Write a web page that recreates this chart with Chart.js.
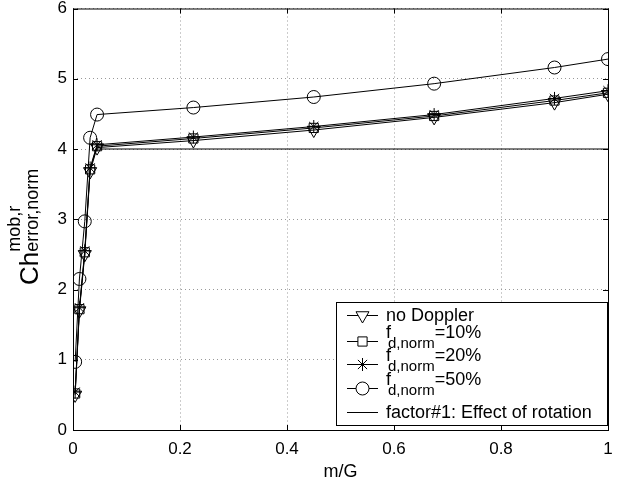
<!DOCTYPE html>
<html>
<head>
<meta charset="utf-8">
<script src="https://cdn.jsdelivr.net/npm/chart.js@4.4.1/dist/chart.umd.min.js"></script>
<style>
  html, body { margin: 0; padding: 0; background: #fff; }
  #wrap { position: absolute; left: 0; top: 0; width: 617px; height: 485px; }
</style>
</head>
<body>
<div id="wrap"><canvas id="c" width="617" height="485"></canvas></div>
<script>
// m/G sample points (x axis)
const mG = [0.004, 0.012, 0.022, 0.032, 0.045, 0.225, 0.45, 0.675, 0.9, 1.0];
const noDoppler = [0.50, 1.70, 2.50, 3.68, 4.02, 4.12, 4.27, 4.45, 4.66, 4.78];
const fd10 = [0.52, 1.72, 2.53, 3.71, 4.04, 4.15, 4.30, 4.47, 4.69, 4.80];
const fd20 = [0.54, 1.74, 2.55, 3.73, 4.06, 4.17, 4.32, 4.49, 4.72, 4.83];
const fd50 = [0.97, 2.15, 2.97, 4.16, 4.49, 4.59, 4.74, 4.93, 5.16, 5.28];
const factorX = [0.045, 1.0];
const factorY = [4, 4];
const xTicks = [0, 0.2, 0.4, 0.6, 0.8, 1];
const yTicks = [0, 1, 2, 3, 4, 5, 6];

const FONT = "'Liberation Sans', Arial, Helvetica, sans-serif";
const pts = (xs, ys) => xs.map((x, i) => ({ x, y: ys[i] }));

const series = [
  { label: "no Doppler", data: pts(mG, noDoppler), style: "triangle", radius: 7.5, rotation: 180 },
  { label: "=10%", data: pts(mG, fd10), style: "rect", radius: 6.5, rotation: 0 },
  { label: "=20%", data: pts(mG, fd20), style: "star", radius: 6.5, rotation: 0 },
  { label: "=50%", data: pts(mG, fd50), style: "circle", radius: 6.5, rotation: 0 },
  { label: "factor#1: Effect of rotation", data: pts(factorX, factorY), style: false, radius: 0, rotation: 0 },
];

// frame + inward ticks on all four sides
const framePlugin = {
  id: "frame",
  afterDatasetsDraw(chart) {
    const { ctx, chartArea: a, scales } = chart;
    ctx.save();
    ctx.strokeStyle = "#000";
    ctx.lineWidth = 1;
    ctx.strokeRect(a.left + 0.5, a.top + 0.5, a.right - a.left, a.bottom - a.top);
    const t = 5;
    ctx.beginPath();
    xTicks.forEach(v => {
      const x = Math.round(scales.x.getPixelForValue(v)) + 0.5;
      ctx.moveTo(x, a.bottom); ctx.lineTo(x, a.bottom - t);
      ctx.moveTo(x, a.top); ctx.lineTo(x, a.top + t);
    });
    yTicks.forEach(v => {
      const y = Math.round(scales.y.getPixelForValue(v)) + 0.5;
      ctx.moveTo(a.left, y); ctx.lineTo(a.left + t, y);
      ctx.moveTo(a.right, y); ctx.lineTo(a.right - t, y);
    });
    ctx.stroke();
    ctx.restore();
  }
};

// y axis title: Ch^{mob,r}_{error,norm}
const yTitlePlugin = {
  id: "yTitle",
  afterDraw(chart) {
    const { ctx } = chart;
    ctx.save();
    ctx.translate(38, 285);
    ctx.rotate(-Math.PI / 2);
    ctx.fillStyle = "#000";
    ctx.textBaseline = "alphabetic";
    ctx.textAlign = "left";
    ctx.font = "26px " + FONT;
    ctx.fillText("Ch", 0, 0);
    const w = ctx.measureText("Ch").width;
    ctx.font = "18px " + FONT;
    ctx.fillText("mob,r", w, -18);
    ctx.fillText("error,norm", w, 0);
    ctx.restore();
  }
};

// legend box with subscripted labels
const legendPlugin = {
  id: "customLegend",
  afterDraw(chart) {
    const { ctx } = chart;
    const box = { x: 336.5, y: 302.5, w: 271, h: 123 };
    ctx.save();
    ctx.fillStyle = "#fff";
    ctx.fillRect(box.x, box.y, box.w, box.h);
    ctx.strokeStyle = "#000";
    ctx.lineWidth = 1;
    ctx.strokeRect(box.x, box.y, box.w, box.h);
    const rows = [315, 341, 364, 388, 412];
    series.forEach((s, i) => {
      const y = rows[i];
      ctx.strokeStyle = "#000";
      ctx.lineWidth = 1;
      ctx.beginPath();
      ctx.moveTo(347, y + 0.5); ctx.lineTo(378, y + 0.5);
      ctx.stroke();
      if (s.style) {
        ctx.fillStyle = "#fff";
        Chart.helpers.drawPoint(ctx, {
          pointStyle: s.style, radius: s.radius, rotation: s.rotation, borderWidth: 1
        }, 362.5, y + 0.5);
      }
      ctx.fillStyle = "#000";
      ctx.textBaseline = "alphabetic";
      ctx.textAlign = "left";
      const tx = 386;
      if (i === 0 || i === 4) {
        ctx.font = "18px " + FONT;
        ctx.fillText(s.label, tx, y + 6);
      } else {
        ctx.font = "18px " + FONT;
        ctx.fillText("f", tx, y - 3);
        ctx.font = "15px " + FONT;
        ctx.fillText("d,norm", tx + 2, y + 7);
        const sw = ctx.measureText("d,norm").width;
        ctx.font = "18px " + FONT;
        ctx.fillText(s.label, tx + 2 + sw, y - 3);
      }
    });
    ctx.restore();
  }
};

const bgPlugin = {
  id: "bg",
  beforeDraw(chart) {
    const { ctx, width, height } = chart;
    ctx.save();
    ctx.fillStyle = "#fff";
    ctx.fillRect(0, 0, width, height);
    ctx.restore();
  }
};

new Chart(document.getElementById("c").getContext("2d"), {
  type: "scatter",
  data: {
    datasets: series.map(s => ({
      label: s.label,
      data: s.data,
      showLine: true,
      borderColor: "#000",
      borderWidth: 1,
      backgroundColor: "rgba(0,0,0,0)",
      pointStyle: s.style,
      pointRadius: s.radius,
      pointRotation: s.rotation,
      pointBorderColor: "#000",
      pointBorderWidth: 1,
      pointBackgroundColor: "rgba(0,0,0,0)",
      tension: 0,
    }))
  },
  options: {
    responsive: false,
    animation: false,
    layout: { padding: { top: 0, right: 9, left: 0, bottom: 0 } },
    scales: {
      x: {
        type: "linear",
        min: 0, max: 1,
        afterBuildTicks: s => { s.ticks = xTicks.map(v => ({ value: v })); },
        afterFit: s => { s.height = 55; s.paddingRight = 0; s.paddingLeft = 0; },
        ticks: {
          color: "#000",
          font: { family: FONT, size: 17 },
          padding: 9,
          callback: v => String(v),
          maxRotation: 0,
        },
        grid: { color: "#999", drawTicks: false, lineWidth: 1 },
        border: { display: false, dash: [1, 3] },
        title: {
          display: true, text: "m/G", color: "#000",
          font: { family: FONT, size: 18 },
          padding: { top: 0, bottom: 2 }
        }
      },
      y: {
        type: "linear",
        min: 0, max: 6,
        afterBuildTicks: s => { s.ticks = yTicks.map(v => ({ value: v })); },
        afterFit: s => { s.width = 73; s.paddingTop = 7; s.paddingBottom = 0; },
        ticks: {
          color: "#000",
          font: { family: FONT, size: 17 },
          padding: 6,
        },
        grid: { color: "#999", drawTicks: false, lineWidth: 1 },
        border: { display: false, dash: [1, 3] },
      }
    },
    plugins: {
      legend: { display: false },
      tooltip: { enabled: false },
    }
  },
  plugins: [bgPlugin, framePlugin, yTitlePlugin, legendPlugin],
});
</script>
</body>
</html>
